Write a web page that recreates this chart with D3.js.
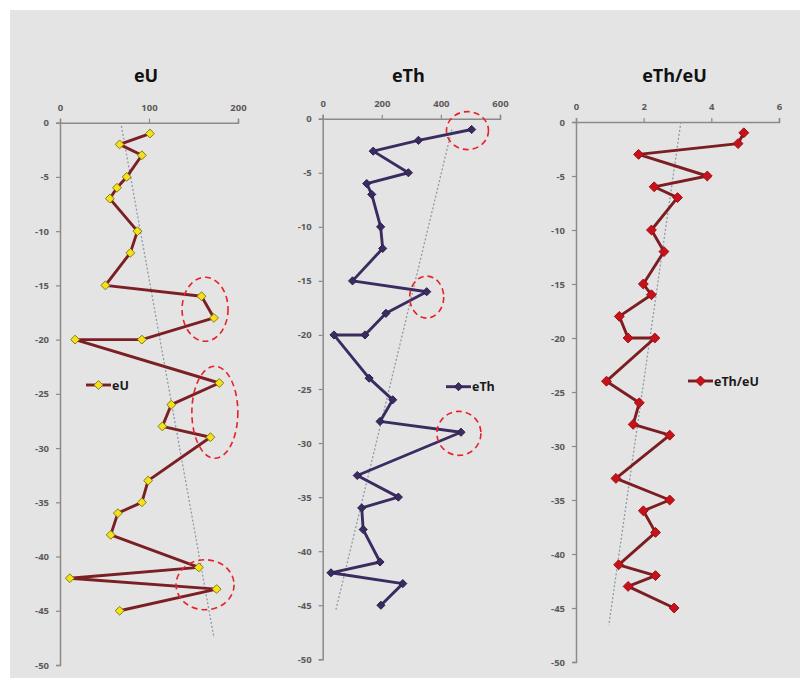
<!DOCTYPE html>
<html>
<head>
<meta charset="utf-8">
<script src="https://cdn.jsdelivr.net/npm/d3@7"></script>
<style>
  body { margin: 0; background: #fff; }
  svg { display: block; }
</style>
</head>
<body>
<script>
// depth of each sample (m), two samples at -20
const depth = [-1, -2, -3, -5, -6, -7, -10, -12, -15, -16, -18, -20, -20, -24, -26, -28, -29, -33, -35, -36, -38, -41, -42, -43, -45];
const eU = [101, 67, 92, 75, 64, 56, 87, 79, 51, 159, 173, 92, 17, 179, 125, 115, 169, 99, 92, 65, 57, 156, 11, 176, 67];
const eTh = [504, 324, 171, 290, 149, 166, 196, 203, 101, 352, 214, 143, 38, 157, 237, 194, 468, 117, 256, 132, 137, 194, 28, 271, 197];
const ratio = [4.96, 4.79, 1.85, 3.88, 2.31, 3.0, 2.23, 2.6, 1.99, 2.23, 1.28, 1.54, 2.33, 0.9, 1.87, 1.69, 2.77, 1.18, 2.77, 1.99, 2.35, 1.26, 2.35, 1.54, 2.9];

// dotted trend lines [value, depth]
const trendEU = [[69, -0.3], [173, -47.5]];
const trendETh = [[437, -1], [44, -45.5]];
const trendRatio = [[3.1, 0], [0.97, -46.6]];

// red dashed circles drawn round anomalies [value, depth]
const circlesEU = [[163, -17.2], [174, -26.7], [163, -42.6]];
const circlesETh = [[490, -1.1], [352, -16.5], [461, -29.1]];

const depthTicks = [0, -5, -10, -15, -20, -25, -30, -35, -40, -45, -50];
const ticksEU = [0, 100, 200];
const ticksETh = [0, 200, 400, 600];
const ticksRatio = [0, 2, 4, 6];

const W = 800, H = 678;
const fmt = d => String(d);   // plain hyphen minus, no decimals

const svg = d3.select("body").append("svg")
    .attr("width", W)
    .attr("height", H);

svg.append("rect")
    .attr("x", 10).attr("y", 10)
    .attr("width", W - 10).attr("height", H - 10)
    .attr("fill", "#e4e4e4");

const panels = [
  {title: "eU", values: eU, xMax: 200, ticks: ticksEU, trend: trendEU, circles: circlesEU,
   circleR: [[23, 32], [23, 46], [29, 25]],
   left: 60, right: 238, top: 122.7, bottom: 665,
   line: "#7a1f24", mFill: "#f2e21a", mStroke: "#8a7a10", mSize: 50,
   legX: 86, legY: 385},
  {title: "eTh", values: eTh, xMax: 600, ticks: ticksETh, trend: trendETh, circles: circlesETh,
   circleR: [[21, 19], [17, 21], [22, 22]],
   left: 322.7, right: 500, top: 118.7, bottom: 659.3,
   line: "#3a2c60", mFill: "#3a2c60", mStroke: "#2b1f4a", mSize: 42,
   legX: 446, legY: 386.7},
  {title: "eTh/eU", values: ratio, xMax: 6, ticks: ticksRatio, trend: trendRatio, circles: [],
   circleR: [],
   left: 576, right: 779, top: 122, bottom: 662,
   line: "#7c1d22", mFill: "#c8121a", mStroke: "#a00d14", mSize: 62,
   legX: 688, legY: 381}
];

panels.forEach(p => {
  const x = d3.scaleLinear().domain([0, p.xMax]).range([p.left, p.right]);
  const y = d3.scaleLinear().domain([0, -50]).range([p.top, p.bottom]);
  const g = svg.append("g");

  // title
  g.append("text")
      .attr("x", (p.left + p.right) / 2 - 3)
      .attr("y", 82)
      .attr("text-anchor", "middle")
      .attr("font-family", "Open Sans, sans-serif")
      .attr("font-weight", "bold")
      .attr("font-size", 18)
      .attr("fill", "#111")
      .text(p.title);

  // axes
  const xAxis = g.append("g")
      .attr("transform", `translate(0,${p.top})`)
      .call(d3.axisTop(x).tickValues(p.ticks).tickFormat(fmt).tickSize(4).tickPadding(8));
  const yAxis = g.append("g")
      .attr("transform", `translate(${p.left},0)`)
      .call(d3.axisLeft(y).tickValues(depthTicks).tickFormat(fmt).tickSize(4).tickPadding(7));
  [xAxis, yAxis].forEach(a => {
    a.select(".domain").attr("stroke", "#8a8a8a").attr("stroke-width", 1.5);
    a.selectAll(".tick line").attr("stroke", "#8a8a8a").attr("stroke-width", 1.2);
    a.selectAll(".tick text")
        .attr("fill", "#5a5a5a")
        .attr("font-family", "Open Sans, sans-serif")
        .attr("font-weight", "bold")
        .attr("font-size", 9.5);
  });

  // trend line
  g.append("path")
      .datum(p.trend)
      .attr("d", d3.line().x(d => x(d[0])).y(d => y(d[1])))
      .attr("fill", "none")
      .attr("stroke", "#8f9ba6")
      .attr("stroke-width", 1.3)
      .attr("stroke-dasharray", "2,2");

  const pts = depth.map((d, i) => [p.values[i], d]);

  // profile line
  g.append("path")
      .datum(pts)
      .attr("d", d3.line().x(d => x(d[0])).y(d => y(d[1])))
      .attr("fill", "none")
      .attr("stroke", p.line)
      .attr("stroke-width", 2.9)
      .attr("stroke-linejoin", "round");

  const diamond = d3.symbol().type(d3.symbolDiamond2).size(p.mSize);
  g.selectAll(".mk")
      .data(pts)
      .enter()
      .append("path")
      .attr("class", "mk")
      .attr("transform", d => `translate(${x(d[0])},${y(d[1])})`)
      .attr("d", diamond)
      .attr("fill", p.mFill)
      .attr("stroke", p.mStroke)
      .attr("stroke-width", 1);

  // anomaly circles
  g.selectAll(".circ")
      .data(p.circles)
      .enter()
      .append("ellipse")
      .attr("cx", d => x(d[0]))
      .attr("cy", d => y(d[1]))
      .attr("rx", (d, i) => p.circleR[i][0])
      .attr("ry", (d, i) => p.circleR[i][1])
      .attr("fill", "none")
      .attr("stroke", "#e8202a")
      .attr("stroke-width", 1.6)
      .attr("stroke-dasharray", "6,4");

  // legend
  g.append("line")
      .attr("x1", p.legX).attr("x2", p.legX + 25)
      .attr("y1", p.legY).attr("y2", p.legY)
      .attr("stroke", p.line)
      .attr("stroke-width", 2.9);
  g.append("path")
      .attr("transform", `translate(${p.legX + 12.5},${p.legY})`)
      .attr("d", diamond)
      .attr("fill", p.mFill)
      .attr("stroke", p.mStroke);
  g.append("text")
      .attr("x", p.legX + 26)
      .attr("y", p.legY + 4.5)
      .attr("font-family", "Open Sans, sans-serif")
      .attr("font-weight", "bold")
      .attr("font-size", 12.5)
      .attr("fill", "#1a1a1a")
      .text(p.title);
});
</script>
</body>
</html>
